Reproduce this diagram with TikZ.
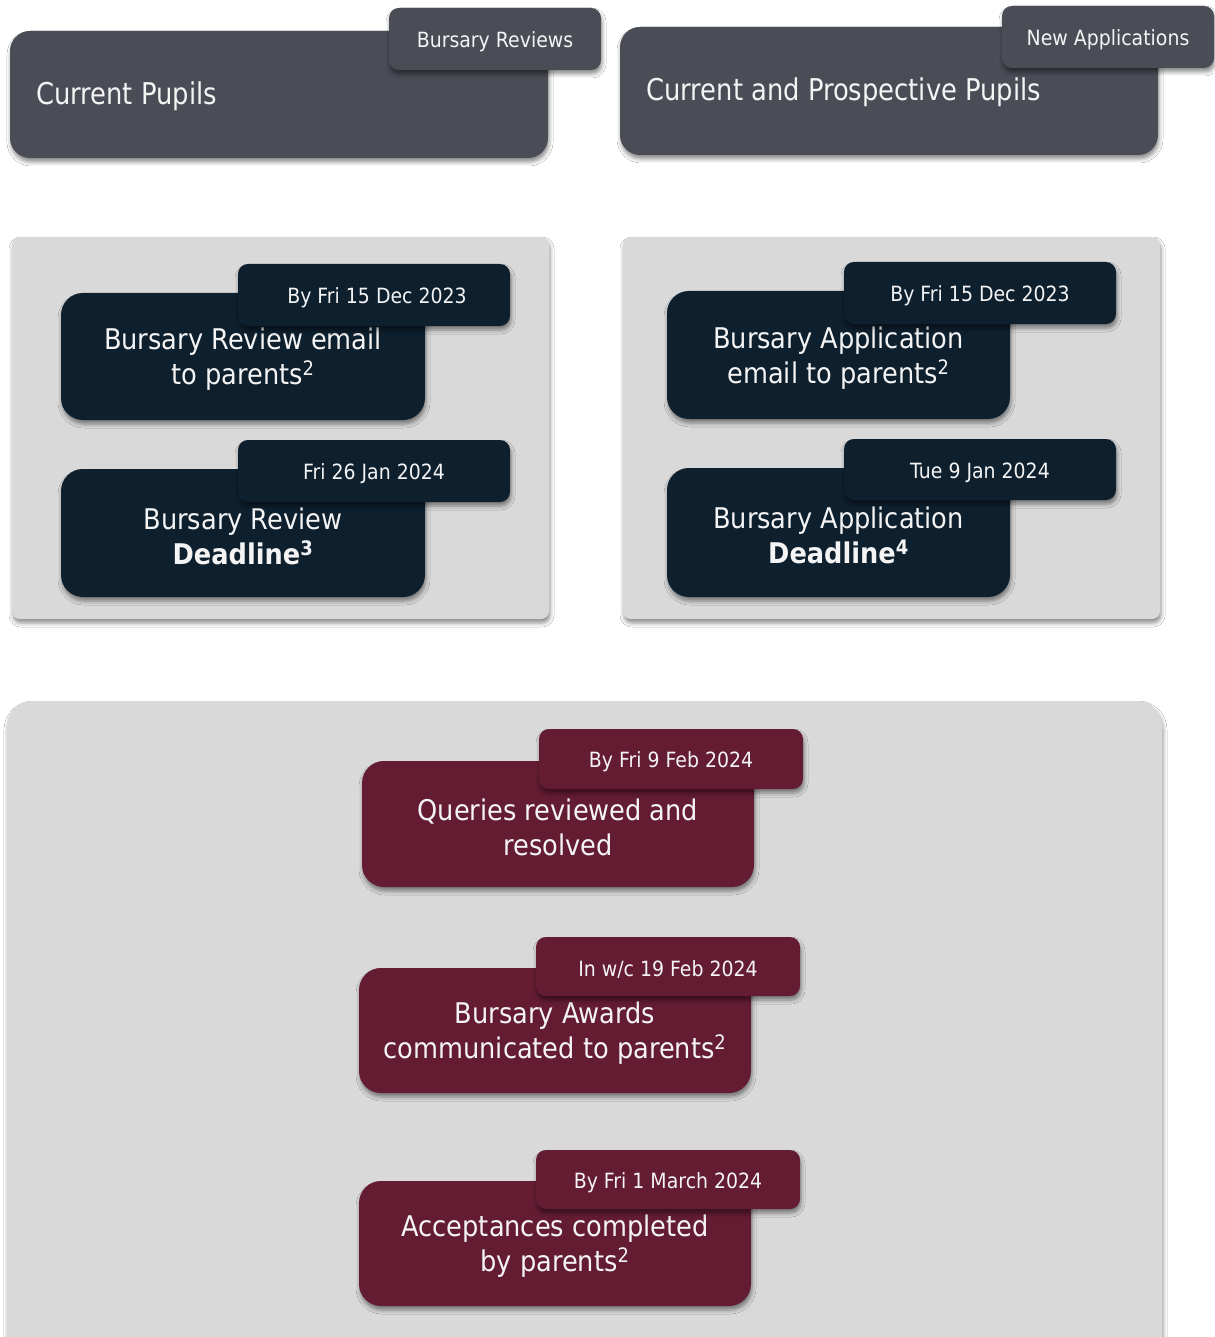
\documentclass[tikz,border=0pt]{standalone}
\usepackage{fontspec}
\setmainfont{DejaVu Sans}[FakeStretch=0.9]
\newfontfamily\hdrfont{DejaVu Sans}[FakeStretch=0.86]
\usetikzlibrary{shadows.blur}
\definecolor{hdr}{HTML}{4A4C56}
\definecolor{navy}{HTML}{0E1F2E}
\definecolor{maroon}{HTML}{641C33}
\definecolor{panel}{HTML}{D9D9D9}
\definecolor{txt}{HTML}{F4F4F4}
\tikzset{
  shad/.style={blur shadow={shadow xshift=1pt, shadow yshift=-4pt, shadow blur radius=4pt, shadow opacity=45}},
  panelbox/.style={fill=panel, rounded corners=8pt, inner sep=0pt, shad},
  hdrbox/.style={fill=hdr, rounded corners=20pt, inner sep=0pt, shad},
  hdrtab/.style={fill=hdr, rounded corners=10pt, inner sep=0pt, minimum width=212pt, minimum height=62pt, shad},
  hdrtext/.style={anchor=west, inner sep=0pt, text=txt, font=\hdrfont\fontsize{30}{36}\selectfont},
  tabtext/.style={inner sep=0pt, text=txt, font=\fontsize{21}{25}\selectfont, yshift=-3pt},
  mainbox/.style={rounded corners=22pt, inner sep=0pt, shad},
  maintext/.style={inner sep=0pt, text=txt, align=center, font=\fontsize{28.5}{35}\selectfont, yshift=-3pt},
  tabbox/.style={rounded corners=10pt, inner sep=0pt, shad},
}
\begin{document}
\begin{tikzpicture}[x=1pt,y=-1pt]
\useasboundingbox (0,0) rectangle (1214,1337);
\fill[white] (0,0) rectangle (1214,1337);

% headers
\node[hdrbox, minimum width=538pt, minimum height=127pt] (hl) at (279,94.5) {};
\node[hdrtext] (hlt) at (36,96) {Current Pupils};
\node[hdrtab] (tl) at (495,39) {};
\node[tabtext] (tlt) at (tl.center) {Bursary Reviews};
\node[hdrbox, minimum width=538pt, minimum height=128pt] (hr) at (889,91) {};
\node[hdrtext] (hrt) at (646,92) {Current and Prospective Pupils};
\node[hdrtab] (tr) at (1108,37) {};
\node[tabtext] (trt) at (tr.center) {New Applications};

% panels
\node[panelbox, minimum width=537pt, minimum height=382pt] (pl) at (280.5,428) {};
\node[panelbox, minimum width=537pt, minimum height=382pt] (pr) at (891.5,428) {};
\node[panelbox, rounded corners=25pt, minimum width=1155pt, minimum height=660pt] (pb) at (584.5,1031) {};

% left navy
\node[mainbox, fill=navy, minimum width=364pt, minimum height=127pt] (l1) at (243,356.5) {};
\node[maintext] (l1x) at (l1.center) {Bursary Review email\\to parents\textsuperscript{2}};
\node[tabbox, fill=navy, minimum width=272pt, minimum height=62pt] (l1t) at (374,295) {};
\node[tabtext, xshift=3pt] (l1tx) at (l1t.center) {By Fri 15 Dec 2023};
\node[mainbox, fill=navy, minimum width=364pt, minimum height=128pt] (l2) at (243,533) {};
\node[maintext] (l2x) at (l2.center) {Bursary Review\\\textbf{Deadline\textsuperscript{3}}};
\node[tabbox, fill=navy, minimum width=272pt, minimum height=62pt] (l2t) at (374,471) {};
\node[tabtext] (l2tx) at (l2t.center) {Fri 26 Jan 2024};

% right navy
\node[mainbox, fill=navy, minimum width=343pt, minimum height=128pt] (r1) at (838.5,355) {};
\node[maintext] (r1x) at (r1.center) {Bursary Application\\email to parents\textsuperscript{2}};
\node[tabbox, fill=navy, minimum width=272pt, minimum height=62pt] (r1t) at (980,293) {};
\node[tabtext] (r1tx) at (r1t.center) {By Fri 15 Dec 2023};
\node[mainbox, fill=navy, minimum width=343pt, minimum height=129pt] (r2) at (838.5,532.5) {};
\node[maintext] (r2x) at (r2.center) {Bursary Application\\\textbf{Deadline\textsuperscript{4}}};
\node[tabbox, fill=navy, minimum width=272pt, minimum height=61pt] (r2t) at (980,469.5) {};
\node[tabtext] (r2tx) at (r2t.center) {Tue 9 Jan 2024};

% maroon
\node[mainbox, fill=maroon, minimum width=392pt, minimum height=126pt] (m1) at (558,824) {};
\node[maintext] (m1x) at (m1.center) {Queries reviewed and\\resolved};
\node[tabbox, fill=maroon, minimum width=264pt, minimum height=60pt] (m1t) at (671,759) {};
\node[tabtext] (m1tx) at (m1t.center) {By Fri 9 Feb 2024};
\node[mainbox, fill=maroon, minimum width=392pt, minimum height=125pt] (m2) at (555,1030.5) {};
\node[maintext] (m2x) at (m2.center) {Bursary Awards\\communicated to parents\textsuperscript{2}};
\node[tabbox, fill=maroon, minimum width=264pt, minimum height=59pt] (m2t) at (668,966.5) {};
\node[tabtext] (m2tx) at (m2t.center) {In w/c 19 Feb 2024};
\node[mainbox, fill=maroon, minimum width=392pt, minimum height=125pt] (m3) at (555,1243.5) {};
\node[maintext] (m3x) at (m3.center) {Acceptances completed\\by parents\textsuperscript{2}};
\node[tabbox, fill=maroon, minimum width=264pt, minimum height=59pt] (m3t) at (668,1179.5) {};
\node[tabtext] (m3tx) at (m3t.center) {By Fri 1 March 2024};
\end{tikzpicture}
\end{document}
